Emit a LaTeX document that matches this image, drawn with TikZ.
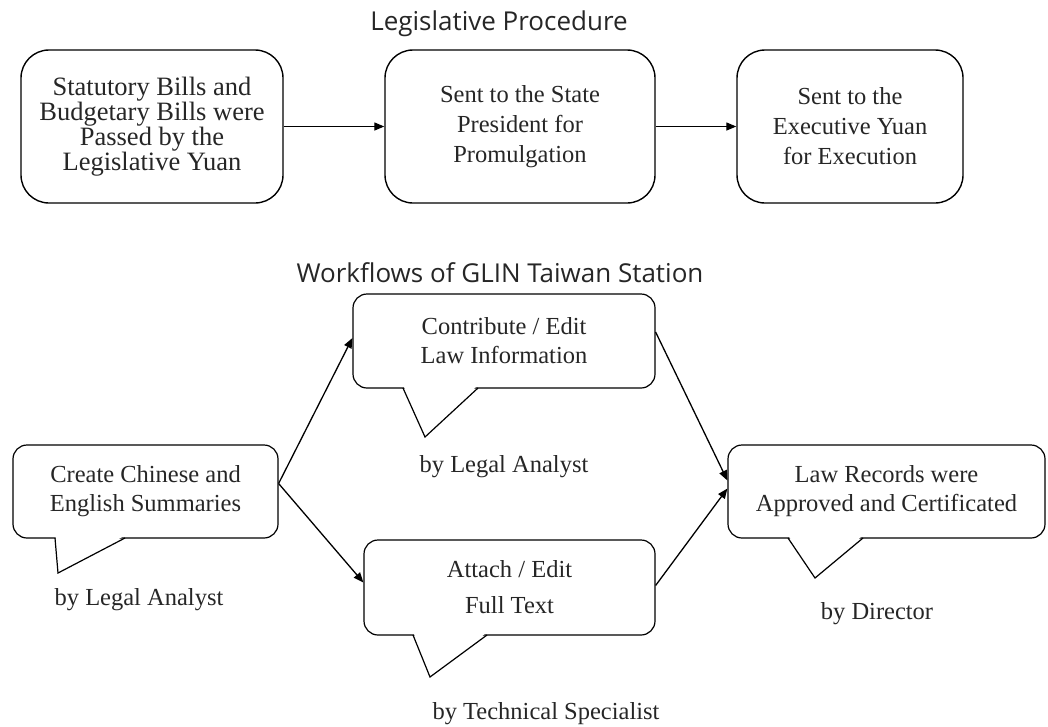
\documentclass[tikz,border=0pt]{standalone}
\usepackage{fontspec}
\setmainfont{Liberation Serif}
\newfontfamily\titlefont{Open Sans}
\usetikzlibrary{arrows.meta,calc}
\begin{document}
\begin{tikzpicture}[x=1pt,y=-1pt,
  box/.style={draw, line width=1.4pt, rounded corners=28pt, align=center, inner sep=0pt, text=black!85},
  bubble/.style={draw, line width=1.2pt, rounded corners=14pt, align=center, inner sep=0pt, text=black!85,
     font=\fontsize{24.5}{29}\selectfont},
  lbl/.style={inner sep=0pt, text=black!85, font=\fontsize{24.5}{29}\selectfont},
  ttl/.style={inner sep=0pt, text=black!85, font=\titlefont\fontsize{26}{30}\selectfont},
  conn/.style={line width=1.3pt, -{Triangle[length=10pt,width=8pt]}},
  tailfill/.style={fill=white, draw=none},
  tailline/.style={line width=1.2pt, line join=miter}]
\useasboundingbox (0,0) rectangle (1048,726);

% titles
\node[ttl] (t1) at (499,24) {Legislative Procedure};
\node[ttl] (t2) at (500,273) {Workflows of GLIN Taiwan Station};

% legislative procedure
\node[box, minimum width=262pt, minimum height=153pt, font=\fontsize{26.5}{25}\selectfont] (p1) at (152,126.5)
  {Statutory Bills and\\Budgetary Bills were\\Passed by the\\Legislative Yuan};
\node[box, minimum width=270pt, minimum height=153pt, font=\fontsize{24.5}{30}\selectfont] (p2) at (520,126.5)
  {Sent to the State\\President for\\Promulgation};
\node[box, minimum width=226pt, minimum height=153pt, font=\fontsize{24.5}{30}\selectfont] (p3) at (850,126.5)
  {Sent to the\\Executive Yuan\\for Execution};
\draw[conn] (p1) -- (p2);
\draw[conn] (p2) -- (p3);

% workflow bubbles
\node[bubble, minimum width=265pt, minimum height=93pt] (b1) at (145.5,491.5)
  {Create Chinese and\\English Summaries};
\node[bubble, minimum width=302pt, minimum height=94pt] (b2) at (504,341)
  {Contribute / Edit\\Law Information};
\node[bubble, minimum width=291pt, minimum height=95pt, font=\fontsize{24.5}{36}\selectfont] (b3) at (509.5,587.5)
  {Attach / Edit\\Full Text};
\node[bubble, minimum width=317pt, minimum height=93pt] (b4) at (886.5,491.5)
  {Law Records were\\Approved and Certificated};

% tails
\fill[tailfill] (55.6,536) -- (58,573) -- (124,536) -- cycle;
\draw[tailline] (55,538) -- (58,573) -- (125,538);
\fill[tailfill] (403.6,386) -- (425,437) -- (477,386) -- cycle;
\draw[tailline] (403,388) -- (425,437) -- (478,388);
\fill[tailfill] (413.6,633) -- (430,677) -- (486,633) -- cycle;
\draw[tailline] (413,635) -- (430,677) -- (487,635);
\fill[tailfill] (788.6,536) -- (815,578) -- (862,536) -- cycle;
\draw[tailline] (788,538) -- (815,578) -- (863,538);

% role labels
\node[lbl] (r1) at (139,600) {by Legal Analyst};
\node[lbl] (r2) at (504,467) {by Legal Analyst};
\node[lbl] (r3) at (546,714) {by Technical Specialist};
\node[lbl] (r4) at (877,614) {by Director};

% connectors
\coordinate (b1o) at ($(b1.east)+(0,-8)$);
\draw[conn] (b1o) -- ($(b2.west)+(0,-3)$);
\draw[conn] (b1o) -- ($(b3.west)+(0,-5)$);
\draw[conn] ($(b2.east)+(0,-9)$) -- ($(b4.west)+(0,-11)$);
\draw[conn] ($(b3.east)+(0,-2)$) -- ($(b4.west)+(0,-3)$);
\end{tikzpicture}
\end{document}
